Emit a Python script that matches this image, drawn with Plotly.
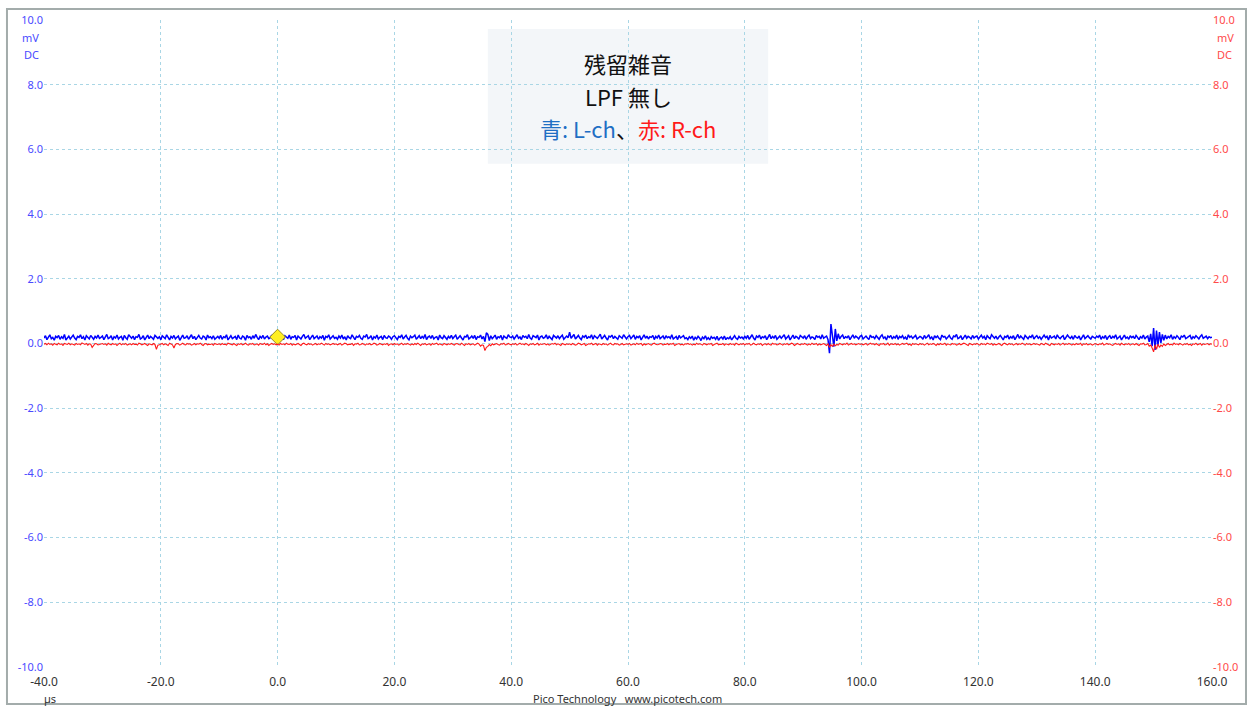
import numpy as np
import plotly.graph_objects as go

# Time axis: samples every 0.25 µs from -40 µs to 160 µs
t_start_us = -40.0
t_step_us = 0.25

# Channel A (L-ch), hundredths of mV, one row per 10 µs
ch_a_rows = [
    [17, 24, 12, 20, 27, 15, 19, 10, 22, 18, 25, 13, 21, 16, 28, 11, 19, 23, 14, 20,
     26, 17, 12, 22, 19, 27, 15, 21, 11, 24, 18, 14, 25, 20, 13, 22, 17, 26, 16, 19],
    [23, 12, 20, 28, 15, 18, 24, 11, 21, 17, 26, 14, 19, 22, 10, 25, 18, 13, 27, 20,
     16, 23, 12, 21, 19, 28, 14, 17, 24, 11, 20, 26, 15, 22, 18, 13, 25, 19, 16, 21],
    [12, 24, 18, 15, 27, 20, 11, 22, 17, 25, 14, 19, 23, 10, 21, 26, 16, 18, 24, 13,
     20, 27, 15, 22, 12, 19, 25, 17, 14, 23, 20, 11, 26, 18, 21, 15, 24, 13, 19, 22],
    [16, 25, 13, 21, 18, 27, 11, 20, 24, 15, 19, 22, 12, 26, 17, 14, 23, 20, 10, 25,
     18, 21, 13, 24, 16, 28, 19, 12, 22, 17, 25, 14, 20, 23, 15, 18, 26, 13, 21, 19],
    [22, 15, 27, 18, 12, 24, 20, 16, 26, 13, 21, 19, 25, 11, 23, 17, 14, 22, 28, 16,
     19, 24, 12, 20, 26, 15, 18, 23, 13, 21, 17, 25, 10, 22, 19, 27, 14, 20, 24, 16],
    [19, 13, 23, 17, 26, 14, 21, 11, 24, 18, 15, 27, 20, 12, 22, 19, 25, 16, 13, 23,
     20, 28, 15, 18, 24, 11, 21, 17, 26, 14, 19, 22, 12, 25, 18, 16, 23, 20, 13, 21],
    [24, 17, 12, 22, 19, 27, 14, 20, 25, 16, 11, 23, 18, 21, 26, 13, 19, 24, 15, 22,
     17, 28, 12, 20, 23, 16, 25, 14, 19, 21, 11, 26, 18, 15, 24, 20, 13, 22, 17, 25],
    [15, 21, 26, 13, 19, 24, 17, 11, 22, 20, 27, 14, 18, 23, 16, 25, 12, 21, 19, 26,
     14, 22, 6, 33, 28, 9, 24, 15, 20, 26, 13, 21, 18, 25, 11, 23, 19, 16, 27, 20],
    [18, 23, 14, 21, 27, 16, 20, 12, 25, 19, 22, 15, 28, 17, 13, 24, 20, 18, 26, 11,
     21, 23, 16, 19, 27, 14, 22, 18, 12, 25, 20, 17, 24, 15, 21, 26, 13, 19, 23, 18],
    [35, 16, 22, 28, 14, 20, 25, 17, 12, 23, 19, 26, 15, 21, 18, 27, 13, 24, 20, 16,
     22, 29, 14, 19, 25, 17, 11, 23, 20, 26, 15, 22, 18, 13, 24, 21, 16, 27, 19, 14],
    [21, 25, 15, 19, 26, 13, 22, 18, 24, 11, 20, 27, 16, 23, 14, 21, 19, 25, 12, 22,
     17, 26, 15, 20, 23, 13, 24, 18, 21, 16, 27, 14, 19, 22, 12, 25, 17, 20, 24, 15],
    [18, 12, 21, 16, 23, 10, 19, 14, 22, 17, 9, 20, 15, 24, 13, 18, 11, 21, 16, 19,
     13, 22, 10, 17, 20, 14, 23, 12, 18, 15, 21, 11, 19, 24, 16, 13, 22, 17, 20, 14],
    [22, 16, 25, 13, 20, 27, 17, 11, 23, 19, 26, 14, 21, 18, 24, 12, 20, 28, 15, 22,
     17, 25, 13, 19, 23, 16, 21, 27, 14, 20, 24, 11, 18, 26, 15, 22, 19, 13, 25, 21],
    [17, 24, 13, 21, 26, 15, 20, 18, 12, 25, 19, 22, 14, 27, 16, 20, 23, 12, -30, 60,
     25, -10, 45, 8, 30, 14, 22, 26, 15, 21, 18, 24, 12, 20, 27, 16, 23, 19, 14, 22],
    [25, 14, 20, 23, 17, 12, 26, 19, 21, 15, 24, 18, 13, 22, 27, 16, 20, 11, 23, 19,
     25, 14, 21, 17, 26, 13, 22, 18, 24, 15, 20, 12, 27, 19, 23, 16, 21, 25, 14, 18],
    [22, 19, 13, 25, 17, 21, 27, 15, 20, 11, 24, 18, 23, 16, 12, 26, 20, 22, 14, 19,
     25, 17, 13, 23, 21, 28, 15, 18, 24, 12, 20, 26, 16, 22, 19, 14, 25, 17, 21, 23],
    [14, 20, 26, 17, 22, 12, 24, 19, 15, 27, 21, 16, 23, 13, 20, 25, 18, 11, 22, 19,
     26, 14, 21, 17, 24, 12, 20, 28, 16, 23, 18, 13, 25, 21, 15, 22, 19, 27, 14, 20],
    [24, 16, 21, 13, 19, 26, 18, 22, 11, 25, 17, 20, 23, 14, 27, 19, 15, 21, 24, 12,
     18, 26, 20, 16, 22, 13, 25, 19, 17, 23, 11, 21, 27, 15, 20, 24, 18, 14, 22, 19],
    [16, 23, 19, 26, 13, 21, 17, 25, 12, 20, 24, 15, 22, 18, 27, 14, 19, 23, 11, 21,
     26, 16, 20, 13, 24, 18, 22, 15, 25, 19, 12, 21, 17, 26, 14, 20, 23, 5, 30, -8],
    [48, -20, 40, -5, 35, 2, 28, 10, 26, 14, 22, 18, 27, 13, 21, 16, 24, 19, 12, 23,
     20, 26, 15, 18, 22, 25, 13, 21, 17, 24, 19, 14, 22, 27, 16, 20, 23, 15, 21, 18],
    [19],
]

# Channel B (R-ch), hundredths of mV, one row per 10 µs
ch_b_rows = [
    [-2, 0, -4, 1, -3, -1, -5, 0, -2, -4, 1, -3, -1, -6, 0, -2, -3, 1, -4, -1,
     -2, -5, 0, -3, -1, -4, 2, -2, -3, 0, -5, -1, -2, -12, -6, 0, -1, -4, -3, -2],
    [0, -3, -1, -5, 1, -2, -4, 0, -3, -1, -6, -2, 1, -4, -1, -3, 0, -5, -2, -1,
     -4, 0, -3, -2, -5, 1, -1, -4, -2, 0, -3, -6, -1, -2, -4, 0, -3, -18, -5, -4],
    [-2, 0, -4, -1, -3, -6, 1, -2, -4, -14, -3, 0, -1, -5, -2, 1, -3, -4, 0, -2,
     -1, -5, -3, 0, -4, -1, -2, 1, -3, -6, -1, 0, -4, -2, -3, -1, -5, 0, -2, -3],
    [-1, -4, 0, -3, -2, -5, 1, -1, -3, -4, 0, -2, -6, -1, -3, 0, -4, -2, 1, -3,
     -5, -1, -2, 0, -4, -3, -1, -5, 0, -2, -3, 1, -4, -1, -6, -2, 0, -3, -1, -4],
    [-2, -5, 0, -3, -1, -4, 1, -2, -3, 0, -5, -1, -4, -2, 0, -3, -6, -1, 1, -2,
     -4, 0, -3, -1, -5, -2, 0, -4, -1, -3, 1, -2, -5, 0, -3, -1, -4, -2, 0, -3],
    [-1, -4, -2, 0, -5, -3, 1, -1, -4, -2, -3, 0, -6, -1, -2, 1, -4, -3, 0, -2,
     -5, -1, -3, 0, -4, -2, 1, -1, -5, -3, 0, -2, -4, -1, -3, 0, -6, -2, -1, -4],
    [0, -3, -1, -5, -2, 1, -4, -1, -3, 0, -2, -5, -1, -4, 0, -3, 1, -2, -6, -1,
     -3, 0, -4, -2, -1, -5, 0, -3, -2, 1, -4, -1, -3, -5, 0, -2, -4, -1, -3, 0],
    [-2, -5, -1, 0, -3, -4, 1, -2, -6, -1, -3, 0, -4, -2, -1, -5, -3, 1, -2, -8,
     -4, -6, -22, -12, -9, -3, -7, -1, -4, -2, 0, -3, -5, -1, -2, 1, -4, -3, 0, -2],
    [-4, -1, -3, 0, -5, -2, 1, -3, -1, -4, 0, -2, -6, -1, -3, 0, -4, -2, 1, -5,
     -1, -3, -2, 0, -4, -1, -5, -3, 0, -2, 1, -4, -1, -3, -6, 0, -2, -4, -1, -3],
    [-1, -4, 0, -2, -5, -3, 1, -1, -4, -2, 0, -6, -3, -1, -2, 1, -4, -3, 0, -5,
     -1, -2, -4, 0, -3, -1, -5, -2, 1, -3, -4, 0, -2, -1, -5, -3, 0, -4, -2, -1],
    [-3, 0, -5, -2, -1, -4, 1, -3, -2, 0, -6, -1, -4, -2, 0, -3, -5, -1, 1, -2,
     -4, -3, 0, -1, -5, -2, -3, 0, -4, -1, -2, 1, -6, -3, -1, 0, -4, -2, -5, -1],
    [-2, 0, -3, -1, -5, -2, -4, 1, -3, -1, -2, -5, 0, -3, -4, -1, -2, 0, -6, -3,
     -1, 1, -4, -2, -3, 0, -5, -1, -2, -4, 0, -3, -1, -5, 1, -2, -4, -1, -3, 0],
    [-4, -1, -2, 0, -5, -3, 1, -2, -4, -1, -3, 0, -6, -2, -1, -4, 0, -3, -5, 1,
     -2, -1, -4, -3, 0, -2, -5, -1, -3, 0, -4, -2, 1, -1, -6, -3, 0, -2, -4, -1],
    [-3, 0, -2, -5, -1, -4, 1, -3, -2, 0, -5, -1, -4, -2, 0, -3, -6, -1, -12, -4,
     -9, -2, -7, -3, -5, 0, -2, -4, -1, -3, 1, -5, -2, 0, -3, -1, -4, -2, 0, -3],
    [-1, -4, -2, 0, -5, -3, 1, -2, -1, -4, 0, -3, -6, -1, -2, 0, -4, -3, 1, -5,
     -1, -2, -3, 0, -4, -1, -5, -2, 0, -3, -1, 1, -4, -2, -6, 0, -3, -1, -2, -4],
    [0, -3, -1, -5, -2, 1, -4, -1, -3, 0, -2, -6, -1, -4, 0, -3, -2, 1, -5, -1,
     -3, -4, 0, -2, -1, -5, -3, 0, -4, -2, 1, -1, -3, -6, 0, -2, -4, -1, -3, 0],
    [-2, -5, 0, -3, -1, -4, 1, -2, -3, 0, -5, -1, -4, -2, 0, -3, -6, -1, 1, -2,
     -4, 0, -3, -1, -5, -2, 0, -4, -1, -3, 1, -2, -5, 0, -3, -1, -4, -2, 0, -3],
    [-1, -3, -5, 0, -2, -4, 1, -1, -3, -6, 0, -2, -4, -1, -3, 0, -5, -2, 1, -4,
     -1, -3, 0, -2, -5, -1, -4, 0, -3, -2, 1, -6, -1, -3, 0, -4, -2, -1, -5, -3],
    [0, -2, -4, -1, -3, 1, -5, -2, 0, -3, -1, -4, -6, -2, 0, -3, -1, -5, 1, -2,
     -4, -1, -3, 0, -5, -2, -1, -4, 0, -3, -6, -1, -2, 1, -4, -3, 0, -8, -5, -14],
    [-26, -4, -18, -2, -12, -5, -9, -1, -6, -3, 0, -4, -2, -5, 1, -3, -1, -4, 0, -2,
     -5, -1, -3, 0, -4, -2, -6, -1, -3, 1, -4, -2, 0, -5, -1, -3, -2, 0, -4, -1],
    [-2],
]

# Trigger point
trigger_t_us = 0.0
trigger_mv = 0.2

x_ticks = [-40, -20, 0, 20, 40, 60, 80, 100, 120, 140, 160]
y_ticks = [-10, -8, -6, -4, -2, 0, 2, 4, 6, 8, 10]

for name, rows in (("ch_a", ch_a_rows), ("ch_b", ch_b_rows)):
    bad = [(i, len(r)) for i, r in enumerate(rows[:-1]) if len(r) != 40]
    if bad:
        raise ValueError(f"{name} row lengths: {bad}")

va = np.concatenate([np.array(r, dtype=float) for r in ch_a_rows]) / 100.0
vb = np.concatenate([np.array(r, dtype=float) for r in ch_b_rows]) / 100.0
t = t_start_us + t_step_us * np.arange(len(va))

FONT = "Noto Sans"
CJK = "Noto Sans CJK JP"
LEFT_COL = "#4a4aff"
RIGHT_COL = "#ff4a4a"
GRID = "#a9d6e5"

fig = go.Figure()
fig.add_trace(go.Scatter(x=t, y=vb, mode="lines", line=dict(color="#ff1a1a", width=1.1),
                         yaxis="y2", hoverinfo="skip", showlegend=False))
fig.add_trace(go.Scatter(x=t, y=va, mode="lines", line=dict(color="#0000ff", width=1.5),
                         hoverinfo="skip", showlegend=False))
fig.add_trace(go.Scatter(x=[trigger_t_us], y=[trigger_mv], mode="markers",
                         marker=dict(symbol="diamond", size=12, color="#ffee22",
                                     line=dict(color="#9a8a20", width=1)),
                         hoverinfo="skip", showlegend=False))

ytext = ["%.1f" % v for v in y_ticks]
axis_common = dict(range=[-10, 10], tickvals=y_ticks, ticktext=ytext, showgrid=True,
                   gridcolor=GRID, griddash="3px,3px", gridwidth=1, zeroline=False,
                   showline=False, ticks="", fixedrange=True)

fig.update_layout(
    width=1252, height=707,
    margin=dict(l=44, r=40, t=18, b=40),
    paper_bgcolor="white", plot_bgcolor="white",
    xaxis=dict(range=[-40, 160], tickvals=x_ticks, ticktext=["%.1f" % v for v in x_ticks],
               showgrid=True, gridcolor=GRID, griddash="3px,3px", gridwidth=1,
               zeroline=False, showline=False, ticks="", ticklabelstandoff=6,
               tickfont=dict(family=FONT, size=12, color="#333333")),
    yaxis=dict(**axis_common, side="left", tickfont=dict(family=FONT, size=11, color=LEFT_COL)),
    yaxis2=dict(**axis_common, side="right", overlaying="y",
                tickfont=dict(family=FONT, size=11, color=RIGHT_COL)),
    showlegend=False,
)

# Title box behind the grid
fig.add_shape(type="rect", xref="paper", yref="paper",
              x0=0.380, x1=0.620, y0=0.778, y1=0.986,
              fillcolor="#f3f6f9", line=dict(width=0), layer="below")

# Outer frame
fig.add_shape(type="rect", xref="paper", yref="paper",
              x0=-0.0317, x1=1.0291, y0=-0.057, y1=1.0169,
              line=dict(color="#a3acab", width=2), fillcolor="rgba(0,0,0,0)")

title_lines = [
    ("残留雑音", 61, 22),
    ("LPF 無し", 94, 22),
]
for txt, ypx, size in title_lines:
    fig.add_annotation(text=txt, xref="paper", yref="paper", x=0.5,
                       y=(667 - ypx) / 649, xanchor="center", yanchor="middle",
                       showarrow=False, font=dict(family=CJK, size=size, color="#111111"))
fig.add_annotation(
    text="<span style='color:#1f6fc4'>青: L-ch</span><span style='color:#111111'>、</span>"
         "<span style='color:#ff1a1a'>赤: R-ch</span>",
    xref="paper", yref="paper", x=0.5, y=(667 - 126) / 649,
    xanchor="center", yanchor="middle", showarrow=False,
    font=dict(family=CJK, size=22))

# Units beside each vertical scale
for txt, ypx in [("mV", 36), ("DC", 53)]:
    fig.add_annotation(text=txt, xref="paper", yref="paper", x=0, xshift=-3,
                       y=(667 - ypx) / 649, xanchor="right", yanchor="middle",
                       showarrow=False, font=dict(family=FONT, size=11, color=LEFT_COL))
    fig.add_annotation(text=txt, xref="paper", yref="paper", x=1, xshift=3,
                       y=(667 - ypx) / 649, xanchor="left", yanchor="middle",
                       showarrow=False, font=dict(family=FONT, size=11, color=RIGHT_COL))

fig.add_annotation(text="µs", xref="paper", yref="paper", x=(50 - 44) / 1168,
                   y=(667 - 699) / 649, xanchor="center", yanchor="middle",
                   showarrow=False, font=dict(family=FONT, size=11, color="#333333"))
fig.add_annotation(text="Pico Technology&nbsp;&nbsp;&nbsp;www.picotech.com",
                   xref="paper", yref="paper", x=(627 - 44) / 1168,
                   y=(667 - 699) / 649, xanchor="center", yanchor="middle",
                   showarrow=False, font=dict(family=FONT, size=11, color="#333333"))

fig.write_html("out.html")
